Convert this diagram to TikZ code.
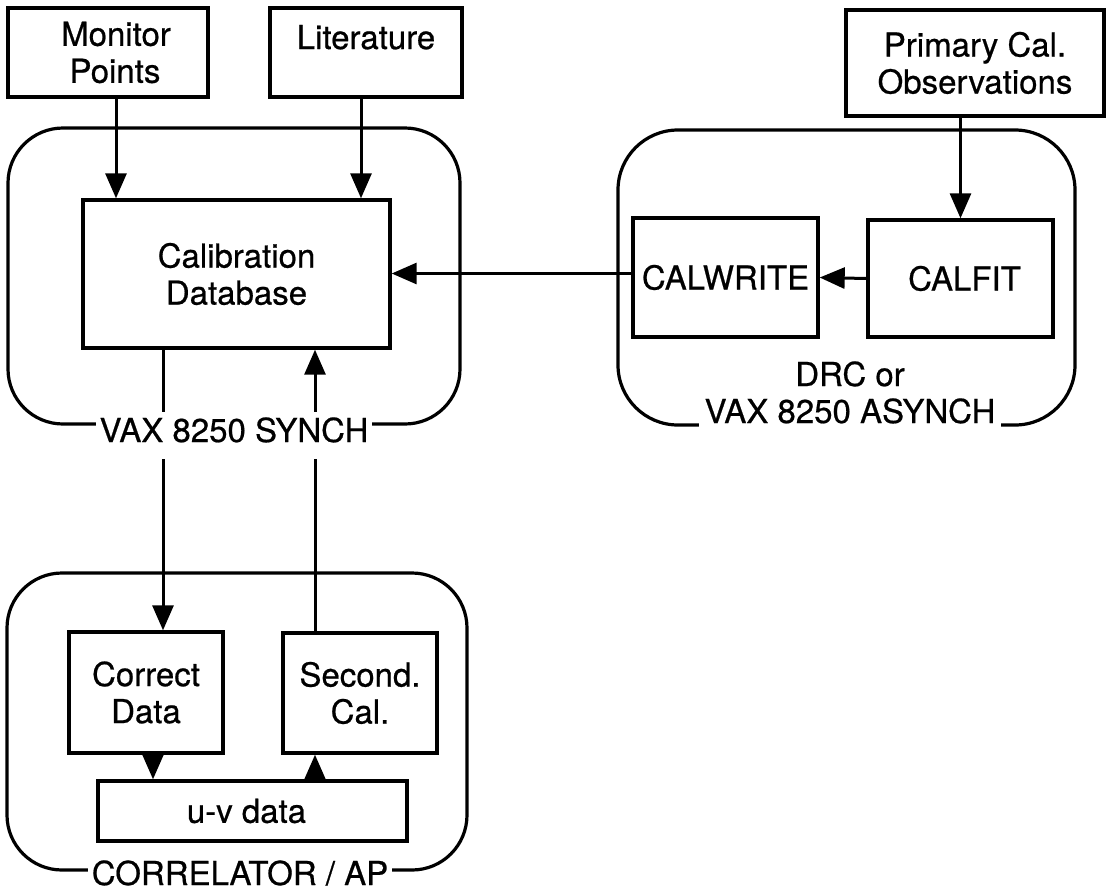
\documentclass[tikz,border=0pt]{standalone}
\usepackage{fontspec}
\setmainfont{TeX Gyre Heros}[BoldFont={TeX Gyre Heros}, BoldFeatures={FakeBold=0.6}]
\usetikzlibrary{arrows.meta}

\begin{document}
\begin{tikzpicture}[x=1pt, y=-1pt,
  txt/.style={font=\fontsize{33}{37}\selectfont\bfseries},
  box/.style={draw, line width=3.4pt, inner sep=0pt, align=center, txt},
  grp/.style={draw, line width=3.2pt, rounded corners=55pt, inner sep=0pt},
  grplbl/.style={fill=white, inner xsep=4pt, inner ysep=5pt, align=center, txt},
  arr/.style={line width=3pt, -{Triangle[length=25pt, width=21pt]}}]
\useasboundingbox (0,0) rectangle (1109,892);

% processor groups
\node (synchgrp) [grp, minimum width=452pt, minimum height=296pt] at (234,276) {};
\node (drcgrp)   [grp, rounded corners=60pt, minimum width=457pt, minimum height=295pt] at (846.5,277.5) {};
\node (corrgrp)  [grp, minimum width=460pt, minimum height=297pt] at (237,721.5) {};

% boxes
\node (mon)  [box, minimum width=200pt, minimum height=89pt]  at (108,52.5)  {\hspace*{16pt}Monitor\\\hspace*{14pt}Points};
\node (lit)  [box, minimum width=192pt, minimum height=89pt]  at (366,52.5)  {Literature\\[-6pt]\mbox{}};
\node (prim) [box, minimum width=258pt, minimum height=106pt] at (975,63)    {Primary Cal.\\Observations};
\node (db)   [box, minimum width=307pt, minimum height=148pt] at (236.5,274) {Calibration\\Database};
\node (calwrite) [box, minimum width=185pt, minimum height=119pt] at (725.5,277.5) {CALWRITE};
\node (calfit)   [box, minimum width=185pt, minimum height=117pt] at (960.5,278.5) {\hspace*{8pt}CALFIT};
\node (cd)   [box, minimum width=154pt, minimum height=121pt] at (146,692.5) {Correct\\Data};
\node (sc)   [box, minimum width=154pt, minimum height=120pt] at (360,693)   {Second.\\Cal.};
\node (uv)   [box, minimum width=309pt, minimum height=60pt]  at (252.5,811) {\hspace*{-12pt}u-v data};

% data flow
\draw[arr] ([xshift=8pt]mon.south) -- ([xshift=8pt]mon.south |- db.north);
\draw[arr] ([xshift=-5pt]lit.south) -- ([xshift=-5pt]lit.south |- db.north);
\draw[arr] (calfit.north |- prim.south) -- (calfit.north);
\draw[arr] (calfit.west) -- (calwrite.east);
\draw[arr] ([yshift=4pt]calwrite.west) -- ([yshift=4pt]calwrite.west -| db.east);
\draw[arr] ([xshift=17pt]cd.north |- db.south) -- ([xshift=17pt]cd.north);
\draw[arr] ([xshift=-45pt]sc.north) -- ([xshift=-45pt]sc.north |- db.south);
\draw[arr] ([xshift=7pt]cd.south) -- ([xshift=7pt]cd.south |- uv.north);
\draw[arr] ([xshift=-45pt]sc.south |- uv.north) -- ([xshift=-45pt]sc.south);

% group labels
\node (synchlbl) [grplbl, text depth=12pt, anchor=base] at (234,442) {VAX 8250 SYNCH};
\node (drclbl)   [grplbl, inner xsep=6pt, anchor=base] at (850,423) {DRC or\\VAX 8250 ASYNCH};
\node (corrlbl)  [grplbl, anchor=base] at (240,885) {CORRELATOR / AP};
\end{tikzpicture}
\end{document}
